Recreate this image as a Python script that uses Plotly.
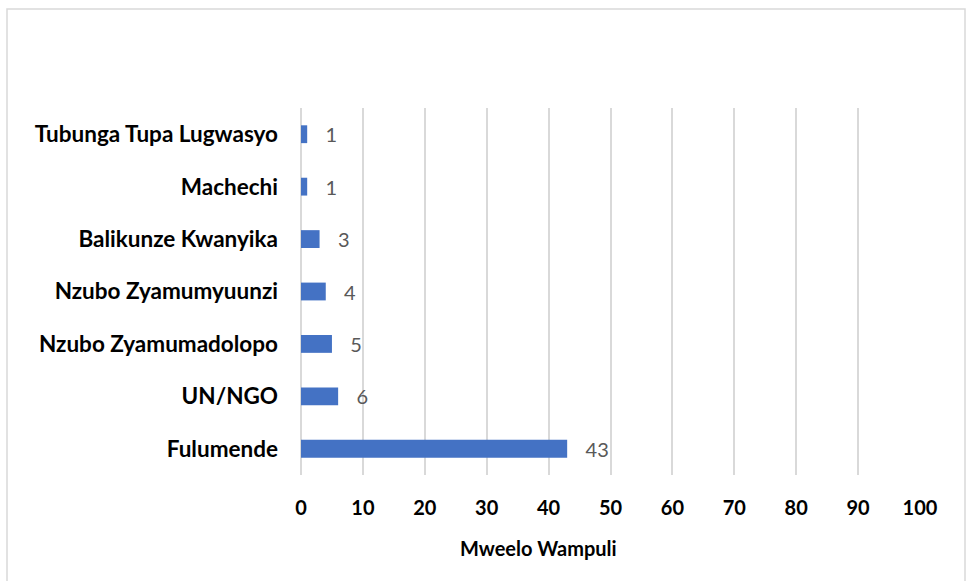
import plotly.graph_objects as go

categories = ["Fulumende", "UN/NGO", "Nzubo Zyamumadolopo", "Nzubo Zyamumyuunzi",
              "Balikunze Kwanyika", "Machechi", "Tubunga Tupa Lugwasyo"]
values = [43, 6, 5, 4, 3, 1, 1]
tick_vals = list(range(0, 101, 10))
x_title = "Mweelo Wampuli"

W, H = 967, 581
L, R, T, B = 301, 47, 108, 106   # plot area 301..920 x 108..475
pw, ph = W - L - R, H - T - B


def px_x(x):
    return (x - L) / pw


def px_y(y):
    return (H - B - y) / ph


fig = go.Figure(go.Bar(
    x=values, y=categories, orientation="h",
    marker=dict(color="#4472C4", line=dict(width=0)),
    width=0.34,
    text=values, texttemplate="   %{x}", textposition="outside",
    constraintext="none",
    textfont=dict(family="Lato, sans-serif", size=20, color="#595959"),
    cliponaxis=False,
))

fig.update_layout(
    width=W, height=H,
    margin=dict(l=L, r=R, t=T, b=B),
    paper_bgcolor="white", plot_bgcolor="white",
    showlegend=False,
    font=dict(family="Lato, sans-serif", color="black"),
    xaxis=dict(range=[0, 100], tickvals=tick_vals, showgrid=True,
               gridcolor="#d9d9d9", gridwidth=1.5, zeroline=True,
               zerolinecolor="#d9d9d9", zerolinewidth=1.5, showline=False,
               tickfont=dict(size=20, family="Lato, sans-serif", weight="bold"),
               ticks="", ticklabelstandoff=19),
    yaxis=dict(showgrid=False, showline=False, ticks="",
               tickfont=dict(size=22.5, family="Lato, sans-serif", weight="bold"),
               ticklabelstandoff=22),
    shapes=[dict(type="rect", xref="paper", yref="paper",
                 x0=px_x(7), x1=px_x(965), y0=px_y(590), y1=px_y(9),
                 line=dict(color="#d9d9d9", width=1.5), layer="below")],
    annotations=[dict(text=x_title, xref="paper", yref="paper",
                      x=px_x(538), y=px_y(548), xanchor="center", yanchor="middle",
                      showarrow=False,
                      font=dict(size=20, family="Lato, sans-serif", weight="bold"))],
)

fig.write_html("out.html", config={"displayModeBar": False},
               post_script="document.body.style.margin='0';document.body.style.overflow='hidden';")
